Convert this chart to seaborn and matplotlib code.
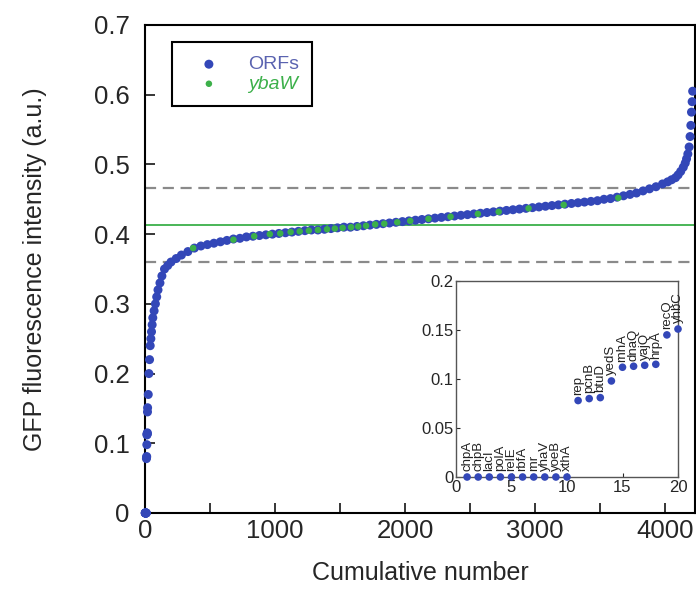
import numpy as np
import pandas as pd
import matplotlib
matplotlib.use("Agg")
import matplotlib.pyplot as plt
import seaborn as sns

# inset: the 20 lowest ORFs
low_genes = ["chpA", "chpB", "lacI", "polA", "relE", "rbfA", "rnr", "yhaV", "yoeB", "xthA",
             "rep", "pcnB", "btuD", "yedS", "rnhA", "dnaQ", "yajQ", "hrpA", "recQ", "yhbC"]
low_values = [0, 0, 0, 0, 0, 0, 0, 0, 0, 0,
              0.078, 0.080, 0.081, 0.098, 0.112, 0.113, 0.114, 0.115, 0.145, 0.151]

# main curve (rank, value), after the 20 lowest
orf_rank = [25, 30, 35, 40, 45, 50, 55, 60, 70, 80, 90, 100, 115, 130, 150, 175, 200, 240,
            280, 330, 380, 430, 480, 530, 580, 630, 680, 730, 780, 830, 880, 930, 980,
            1030, 1080, 1130, 1180, 1230, 1280, 1330, 1380, 1430, 1480, 1530, 1580, 1630,
            1680, 1730, 1780, 1830, 1880, 1930, 1980, 2030, 2080, 2130, 2180, 2230, 2280,
            2330, 2380, 2430, 2480, 2530, 2580, 2630, 2680, 2730, 2780, 2830, 2880, 2930,
            2980, 3030, 3080, 3130, 3180, 3230, 3280, 3330, 3380, 3430, 3480, 3530, 3580,
            3630, 3680, 3730, 3780, 3830, 3880, 3930, 3980, 4020, 4050, 4080, 4100, 4120,
            4140, 4155, 4165, 4175, 4185, 4192, 4198, 4203, 4208, 4212]
orf_value = [0.17, 0.20, 0.22, 0.24, 0.25, 0.26, 0.27, 0.28, 0.29, 0.30, 0.31, 0.32, 0.33,
             0.34, 0.35, 0.355, 0.36, 0.365, 0.370, 0.375, 0.380, 0.383, 0.385, 0.387,
             0.389, 0.391, 0.393, 0.394, 0.396, 0.397, 0.398, 0.399, 0.400, 0.401, 0.402,
             0.403, 0.404, 0.405, 0.406, 0.406, 0.407, 0.408, 0.409, 0.410, 0.410, 0.411,
             0.412, 0.413, 0.414, 0.415, 0.416, 0.417, 0.418, 0.419, 0.420, 0.421, 0.422,
             0.423, 0.424, 0.425, 0.426, 0.427, 0.428, 0.429, 0.430, 0.431, 0.432, 0.433,
             0.434, 0.435, 0.436, 0.437, 0.438, 0.439, 0.440, 0.441, 0.442, 0.443, 0.444,
             0.445, 0.446, 0.447, 0.448, 0.450, 0.451, 0.453, 0.455, 0.457, 0.459, 0.462,
             0.465, 0.468, 0.472, 0.475, 0.478, 0.481, 0.485, 0.490, 0.496, 0.502, 0.508,
             0.515, 0.525, 0.540, 0.556, 0.575, 0.590, 0.605]

# ybaW replicates
ybaw_rank = [370, 680, 840, 960, 1040, 1120, 1190, 1260, 1330, 1400, 1460, 1520, 1585,
             1640, 1700, 1770, 1840, 1940, 2040, 2180, 2350, 2560, 2720, 2950, 3220, 3640]
ybaw_value = [0.380, 0.392, 0.397, 0.400, 0.401, 0.403, 0.404, 0.405, 0.406, 0.407,
              0.408, 0.409, 0.410, 0.411, 0.412, 0.414, 0.415, 0.417, 0.419, 0.422,
              0.425, 0.429, 0.432, 0.437, 0.442, 0.452]

ybaw_mean = 0.413
ybaw_upper = 0.466
ybaw_lower = 0.360

blue = "#3347b8"
green = "#3cb04a"

sns.set_style("ticks")
plt.rcParams["font.family"] = ["Liberation Sans", "DejaVu Sans"]

low_rank = list(range(1, len(low_values) + 1))
orfs = pd.DataFrame({"rank": low_rank + orf_rank, "value": low_values + orf_value})
ybaw = pd.DataFrame({"rank": ybaw_rank, "value": ybaw_value})
low = pd.DataFrame({"rank": low_rank, "value": low_values, "gene": low_genes})

fig = plt.figure(figsize=(6.96, 5.94), dpi=100)
ax = fig.add_axes([145 / 696, 81 / 594, 550 / 696, 488 / 594])

ax.axhline(ybaw_upper, color="#8a8a8a", lw=1.6, ls=(0, (5, 3)), zorder=1)
ax.axhline(ybaw_lower, color="#8a8a8a", lw=1.6, ls=(0, (5, 3)), zorder=1)
ax.axhline(ybaw_mean, color=green, lw=1.3, zorder=1)

sns.scatterplot(data=orfs, x="rank", y="value", ax=ax, color=blue, s=42,
                edgecolor="none", label="ORFs", zorder=3, clip_on=False)
sns.scatterplot(data=ybaw, x="rank", y="value", ax=ax, color=green, s=22,
                edgecolor="none", label="ybaW", zorder=4)

ax.set_xlim(0, 4230)
ax.set_ylim(0, 0.7)
ax.set_xticks([0, 1000, 2000, 3000, 4000])
ax.set_xticks(np.arange(500, 4230, 1000), minor=True)
ax.set_yticks(np.arange(0, 0.71, 0.1))
ax.set_yticklabels(["0", "0.1", "0.2", "0.3", "0.4", "0.5", "0.6", "0.7"])
ax.tick_params(direction="in", length=7, width=1.3, labelsize=18.5)
ax.tick_params(axis="x", pad=4)
ax.tick_params(axis="y", pad=11)
ax.tick_params(which="minor", direction="in", length=7, width=1.3)
for s in ax.spines.values():
    s.set_linewidth(1.5)
    s.set_color("black")
ax.set_xlabel("Cumulative number", fontsize=18, labelpad=13)
ax.set_ylabel("GFP fluorescence intensity (a.u.)", fontsize=18, labelpad=34)

leg = ax.legend(loc="upper left", bbox_to_anchor=(0.049, 0.965), fontsize=14,
                frameon=True, fancybox=False, framealpha=1, edgecolor="black",
                borderpad=0.7, handlelength=2.4, handletextpad=0.8, labelspacing=0.1,
                borderaxespad=0)
leg.get_frame().set_linewidth(1.5)
leg.get_texts()[0].set_color("#5a63b0")
leg.get_texts()[1].set_color(green)
leg.get_texts()[1].set_style("italic")

# inset
ins = fig.add_axes([456 / 696, 117 / 594, 222 / 696, 196 / 594])
sns.scatterplot(data=low, x="rank", y="value", ax=ins, color=blue, s=30,
                edgecolor="none", clip_on=False, zorder=3)
for _, r in low.iterrows():
    ins.annotate(r["gene"], (r["rank"], r["value"]), xytext=(0, 4),
                 textcoords="offset points", rotation=90, ha="center", va="bottom",
                 fontsize=9.5, color="#222222")
ins.set_xlim(0, 20)
ins.set_ylim(0, 0.2)
ins.set_xticks([0, 5, 10, 15, 20])
ins.set_yticks([0, 0.05, 0.1, 0.15, 0.2])
ins.set_yticklabels(["0", "0.05", "0.1", "0.15", "0.2"])
ins.tick_params(direction="in", length=3, width=0.8, labelsize=12, pad=2)
ins.set_xlabel("")
ins.set_ylabel("")
for s in ins.spines.values():
    s.set_linewidth(1.0)
    s.set_color("#555555")

fig.savefig("out.png", dpi=100)
